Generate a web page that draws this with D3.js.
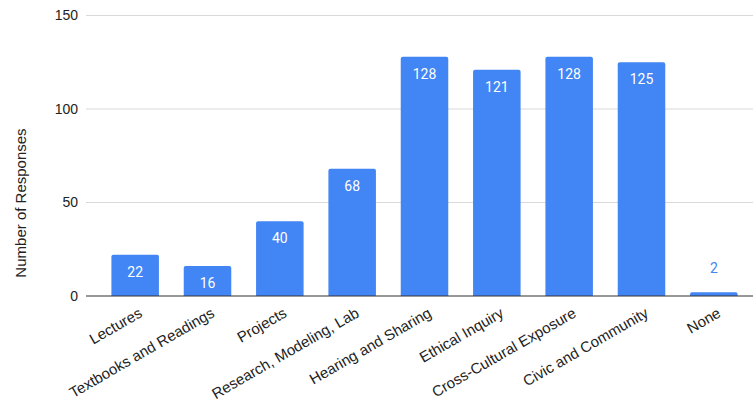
<!DOCTYPE html>
<html>
<head>
<meta charset="utf-8">
<script src="https://cdn.jsdelivr.net/npm/d3@7"></script>
<style>
  html, body { margin: 0; padding: 0; background: #fff; }
  svg { display: block; }
</style>
</head>
<body>
<svg id="chart" width="753" height="404"></svg>
<script>
// Survey responses per learning experience
const categories = [
  "Lectures", "Textbooks and Readings", "Projects", "Research, Modeling, Lab",
  "Hearing and Sharing", "Ethical Inquiry", "Cross-Cultural Exposure",
  "Civic and Community", "None"
];
const responses = [22, 16, 40, 68, 128, 121, 128, 125, 2];
const yTicks = [0, 50, 100, 150];
const yTitle = "Number of Responses";

const W = 753, H = 404;
const svg = d3.select("#chart");
const barColor = "#4285F4";

const x = d3.scaleBand()
  .domain(categories)
  .range([99, 750])
  .paddingInner(0.343)
  .paddingOuter(0.1715);

const y = d3.scaleLinear()
  .domain([0, 150])
  .range([296, 15.5]);

// Horizontal gridlines
svg.append("g")
  .selectAll("line")
  .data(yTicks.filter(d => d !== 0))
  .join("line")
  .attr("x1", 86).attr("x2", W)
  .attr("y1", d => y(d)).attr("y2", d => y(d))
  .attr("stroke", "#d9d9d9")
  .attr("stroke-width", 1);

// Y axis tick labels
const yAxis = d3.axisLeft(y).tickValues(yTicks).tickSize(0).tickPadding(0);
const yg = svg.append("g").attr("transform", "translate(78,0)").call(yAxis);
yg.select(".domain").remove();
yg.selectAll("text")
  .attr("font-family", "Arial, 'Liberation Sans', sans-serif")
  .attr("font-size", 14)
  .attr("fill", "#222");

// Y axis title
svg.append("text")
  .attr("transform", `translate(26,203) rotate(-90)`)
  .attr("text-anchor", "middle")
  .attr("font-family", "Arial, 'Liberation Sans', sans-serif")
  .attr("font-size", 15)
  .attr("fill", "#222")
  .text(yTitle);

// Bars with slightly rounded tops
const r = 2;
function barPath(d, i) {
  const x0 = x(categories[i]), w = x.bandwidth();
  const yt = y(d), yb = y(0);
  const rr = Math.min(r, (yb - yt) / 2);
  return `M${x0},${yb} V${yt + rr} Q${x0},${yt} ${x0 + rr},${yt} H${x0 + w - rr} Q${x0 + w},${yt} ${x0 + w},${yt + rr} V${yb} Z`;
}
svg.append("g")
  .selectAll("path")
  .data(responses)
  .join("path")
  .attr("d", (d, i) => barPath(d, i))
  .attr("fill", barColor);

// Baseline
svg.append("line")
  .attr("x1", 86).attr("x2", W)
  .attr("y1", y(0)).attr("y2", y(0))
  .attr("stroke", "#333")
  .attr("stroke-width", 1.2);

// Value labels: inside the bar when tall enough, above otherwise
const inside = d => y(0) - y(d) > 20;
svg.append("g")
  .selectAll("text")
  .data(responses)
  .join("text")
  .attr("x", (d, i) => x(categories[i]) + x.bandwidth() / 2)
  .attr("y", d => (inside(d) ? y(d) + 22 : y(d) - 19))
  .attr("text-anchor", "middle")
  .attr("font-family", "Roboto, sans-serif")
  .attr("font-size", 14)
  .attr("fill", d => (inside(d) ? "#fff" : barColor))
  .text(d => d);

// Category labels, rotated
svg.append("g")
  .selectAll("text")
  .data(categories)
  .join("text")
  .attr("transform", d => `translate(${x(d) + x.bandwidth() / 2 + 8},${316}) rotate(-30)`)
  .attr("text-anchor", "end")
  .attr("font-family", "Arial, 'Liberation Sans', sans-serif")
  .attr("font-size", 15)
  .attr("fill", "#222")
  .text(d => d);
</script>
</body>
</html>
